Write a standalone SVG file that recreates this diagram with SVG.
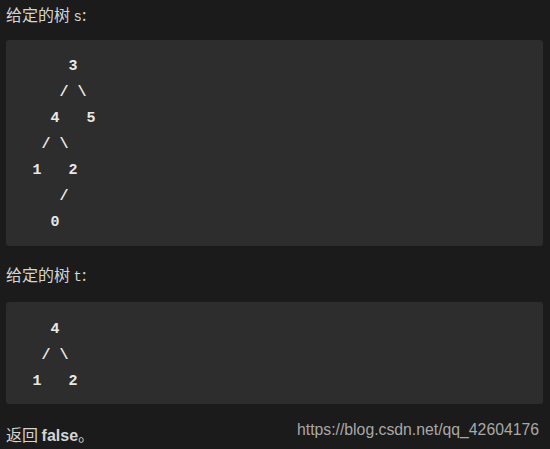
<svg xmlns="http://www.w3.org/2000/svg" width="550" height="449" viewBox="0 0 550 449">
<style>
.h{font-family:"Noto Sans CJK SC","Liberation Sans",sans-serif;font-size:16px;fill:#d4d4d4}
.m{font-family:"Liberation Mono","DejaVu Sans Mono",monospace;font-size:14px}
.c{font-family:"Liberation Mono","DejaVu Sans Mono",monospace;font-size:15px;font-weight:bold;fill:#e8e8e8;white-space:pre}
.blk{fill:#2d2d2d}
</style>
<rect width="550" height="449" fill="#1b1b1b"/>
<g id="heading-s"><text class="h" x="6" y="21">给定的树 <tspan class="m">s</tspan>:</text></g>
<g id="tree-s">
<rect class="blk" x="6" y="40" width="537" height="206" rx="3"/>
<text class="c" xml:space="preserve"><tspan x="23.5" y="70">     3</tspan><tspan x="23.5" y="96">    / \</tspan><tspan x="23.5" y="122">   4   5</tspan><tspan x="23.5" y="148">  / \</tspan><tspan x="23.5" y="174"> 1   2</tspan><tspan x="23.5" y="200">    /</tspan><tspan x="23.5" y="226">   0</tspan></text>
</g>
<g id="heading-t"><text class="h" x="6" y="281">给定的树 <tspan class="m">t</tspan>:</text></g>
<g id="tree-t">
<rect class="blk" x="6" y="302" width="537" height="102" rx="3"/>
<text class="c" xml:space="preserve"><tspan x="23.5" y="333">   4</tspan><tspan x="23.5" y="359">  / \</tspan><tspan x="23.5" y="385"> 1   2</tspan></text>
</g>
<g id="result"><text class="h" x="6" y="441">返回 <tspan font-weight="bold" font-family="Liberation Sans,sans-serif">false</tspan>。</text></g>
<g id="watermark"><text x="297" y="435" font-family="Liberation Sans,Arial,sans-serif" font-size="16" fill="#a8a8a8" textLength="242" lengthAdjust="spacingAndGlyphs">https://blog.csdn.net/qq_42604176</text></g>
</svg>
